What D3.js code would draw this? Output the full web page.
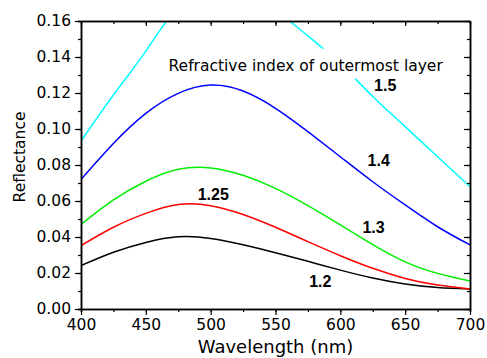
<!DOCTYPE html>
<html>
<head>
<meta charset="utf-8">
<script src="https://cdn.jsdelivr.net/npm/d3@7"></script>
<style>
  body { margin: 0; background: #fff; }
  text { font-family: "DejaVu Sans", sans-serif; fill: #000; }
  .lbl { font-family: "Liberation Sans", Arial, sans-serif; font-weight: bold; font-size: 16px; }
</style>
</head>
<body>
<svg id="chart"></svg>
<script>
// Data
const wavelength = [400, 425, 450, 475, 500, 525, 550, 575, 600, 625, 650, 675, 700];
const n120 = [0.0241, 0.0315, 0.0370, 0.0401, 0.0392, 0.0357, 0.0313, 0.0265, 0.0216, 0.0172, 0.0139, 0.0119, 0.0111];
const n125 = [0.0352, 0.0454, 0.0531, 0.0580, 0.0574, 0.0525, 0.0454, 0.0374, 0.0296, 0.0226, 0.0170, 0.0133, 0.0111];
const n130 = [0.0470, 0.0606, 0.0710, 0.0776, 0.0784, 0.0743, 0.0670, 0.0574, 0.0467, 0.0358, 0.0262, 0.0198, 0.0156];
const n140 = [0.0720, 0.0920, 0.1087, 0.1198, 0.1244, 0.1211, 0.1115, 0.0985, 0.0846, 0.0707, 0.0578, 0.0457, 0.0356];
const n150 = [0.0933, 0.1189, 0.1433, 0.1680, 0.1790, 0.1790, 0.1665, 0.1517, 0.1361, 0.1181, 0.1013, 0.0846, 0.0680];

const seriesNames = ["1.2", "1.25", "1.3", "1.4", "1.5"];
const seriesValues = [n120, n125, n130, n140, n150];
const seriesColors = ["#000000", "#ff0000", "#00ee00", "#0000ff", "#00ffff"];

// label anchors in data units (wavelength, reflectance)
const labelX = [576, 490, 617, 621, 626];
const labelY = [0.0124, 0.0606, 0.0421, 0.0796, 0.1211];

const xTicks = [400, 450, 500, 550, 600, 650, 700];
const yTicks = [0, 0.02, 0.04, 0.06, 0.08, 0.10, 0.12, 0.14, 0.16];

const width = 487, height = 358;
const margin = { top: 21, right: 17, bottom: 49, left: 81 };
const innerW = width - margin.left - margin.right;
const innerH = height - margin.top - margin.bottom;

const svg = d3.select("#chart")
    .attr("width", width)
    .attr("height", height);

const g = svg.append("g")
    .attr("transform", `translate(${margin.left},${margin.top})`);

const x = d3.scaleLinear().domain([400, 700]).range([0, innerW]);
const y = d3.scaleLinear().domain([0, 0.16]).range([innerH, 0]);

svg.append("defs").append("clipPath").attr("id", "clip")
  .append("rect").attr("width", innerW).attr("height", innerH);

// axes: outward ticks left/bottom, inward ticks top/right
const minorX = d3.range(400, 701, 25);
const minorY = d3.range(0, 0.1601, 0.01);

function styleAxis(sel) {
  sel.selectAll("path").attr("stroke", "#000").attr("stroke-width", 1.5);
  sel.selectAll("line").attr("stroke", "#000").attr("stroke-width", 1.2);
  sel.selectAll("text").style("font-size", "15.5px");
}

// curves
const line = d3.line()
    .x((d, i) => x(wavelength[i]))
    .y(d => y(d))
    .curve(d3.curveNatural);

g.append("g").attr("clip-path", "url(#clip)")
  .selectAll("path")
  .data(seriesValues)
  .enter().append("path")
    .attr("d", line)
    .attr("fill", "none")
    .attr("stroke", (d, i) => seriesColors[i])
    .attr("stroke-width", 1.5);

g.append("g").attr("transform", `translate(0,${innerH})`)
  .call(d3.axisBottom(x).tickValues(minorX).tickSize(3).tickFormat(""))
  .call(styleAxis);
g.append("g").attr("transform", `translate(0,${innerH})`)
  .call(d3.axisBottom(x).tickValues(xTicks).tickSize(6).tickSizeOuter(0).tickPadding(4).tickFormat(d3.format("d")))
  .call(styleAxis);

g.append("g")
  .call(d3.axisLeft(y).tickValues(minorY).tickSize(3).tickFormat(""))
  .call(styleAxis);
g.append("g")
  .call(d3.axisLeft(y).tickValues(yTicks).tickSize(6).tickSizeOuter(0).tickPadding(4).tickFormat(d3.format(".2f")))
  .call(styleAxis);

g.append("g")
  .call(d3.axisTop(x).tickValues(minorX).tickSize(-3).tickSizeOuter(0).tickFormat(""))
  .call(styleAxis);
g.append("g")
  .call(d3.axisTop(x).tickValues(xTicks).tickSize(-5).tickSizeOuter(0).tickFormat(""))
  .call(styleAxis);

g.append("g").attr("transform", `translate(${innerW},0)`)
  .call(d3.axisRight(y).tickValues(minorY).tickSize(-3).tickSizeOuter(0).tickFormat(""))
  .call(styleAxis);
g.append("g").attr("transform", `translate(${innerW},0)`)
  .call(d3.axisRight(y).tickValues(yTicks).tickSize(-6).tickSizeOuter(0).tickFormat(""))
  .call(styleAxis);

// note text sits on a white box that hides the curve behind it
const note = g.append("text")
    .attr("x", x(467.5))
    .attr("y", y(0.1324))
    .style("font-size", "15.5px")
    .text("Refractive index of outermost layer");
const bb = note.node().getBBox();
g.insert("rect", () => note.node())
    .attr("x", bb.x - 4)
    .attr("y", bb.y - 8)
    .attr("width", bb.width + 8)
    .attr("height", bb.height + 12)
    .attr("fill", "#fff");

g.selectAll(".lbl")
  .data(seriesNames)
  .enter().append("text")
    .attr("class", "lbl")
    .attr("x", (d, i) => x(labelX[i]))
    .attr("y", (d, i) => y(labelY[i]))
    .text(d => d);

// axis titles
svg.append("text")
    .attr("x", margin.left + innerW / 2)
    .attr("y", 353)
    .attr("text-anchor", "middle")
    .style("font-size", "18px")
    .text("Wavelength (nm)");

svg.append("text")
    .attr("transform", "translate(25,157) rotate(-90)")
    .attr("text-anchor", "middle")
    .style("font-size", "15.5px")
    .text("Reflectance");
</script>
</body>
</html>
